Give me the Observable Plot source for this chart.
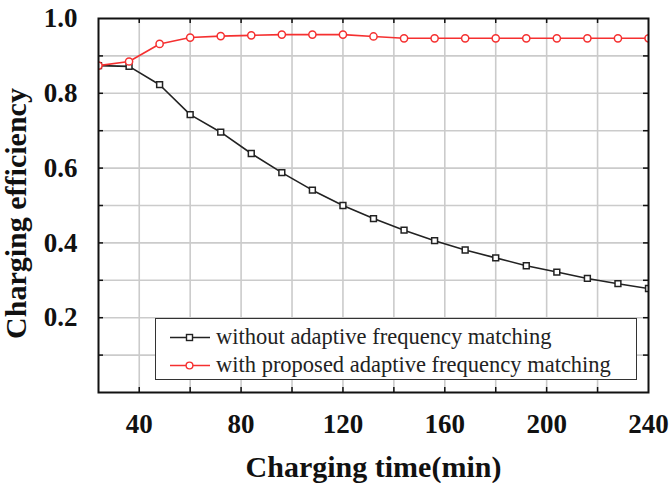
<!DOCTYPE html>
<html>
<head>
<meta charset="utf-8">
<script src="https://cdn.jsdelivr.net/npm/d3@7"></script>
<script src="https://cdn.jsdelivr.net/npm/@observablehq/plot@0.6"></script>
<style>
  html, body { margin: 0; padding: 0; background: #fff; }
  #wrap { position: relative; width: 671px; height: 483px; }
  #legend {
    position: absolute; left: 155px; top: 318px; width: 482px; height: 62px;
    border: 1.5px solid #333; background: #fff; box-sizing: border-box;
    font-family: "Liberation Serif", "Times New Roman", serif; font-size: 22.5px; color: #222;
  }
  .row { position: absolute; left: 14px; height: 26px; display: flex; align-items: center; }
  .row svg { margin-right: 6px; }
</style>
</head>
<body>
<div id="wrap"></div>
<script>
// ---- data ----
const times = [24, 36, 48, 60, 72, 84, 96, 108, 120, 132, 144, 156, 168, 180, 192, 204, 216, 228, 240];
const withoutMatching = [0.874, 0.872, 0.823, 0.743, 0.696, 0.639, 0.588, 0.541, 0.500, 0.465, 0.434, 0.406, 0.381, 0.360, 0.339, 0.322, 0.305, 0.291, 0.278];
const withMatching = [0.874, 0.885, 0.932, 0.949, 0.953, 0.955, 0.957, 0.957, 0.957, 0.952, 0.947, 0.947, 0.947, 0.947, 0.947, 0.947, 0.947, 0.947, 0.947];
const seriesNames = ["without adaptive frequency matching", "with proposed adaptive frequency matching"];
const xTickLabels = [40, 80, 120, 160, 200, 240];
const yTickLabels = [0.2, 0.4, 0.6, 0.8, 1.0];
const xGrid = [40, 60, 80, 100, 120, 140, 160, 180, 200, 220];
const yGrid = [0.1, 0.2, 0.3, 0.4, 0.5, 0.6, 0.7, 0.8, 0.9];
const xLabel = "Charging time(min)";
const yLabel = "Charging efficiency";

const blackData = times.map((t, i) => ({t, v: withoutMatching[i]}));
const redData = times.map((t, i) => ({t, v: withMatching[i]}));

const BLACK = "#222";
const RED = "#f53030";
const H = 483, mTop = 18, mBottom = 91;
const innerH = H - mTop - mBottom;
const innerW = 671 - 98 - 23;
const SERIF = "'Liberation Serif', 'Times New Roman', serif";

const chart = Plot.plot({
  width: 671,
  height: H,
  marginLeft: 98,
  marginRight: 23,
  marginTop: mTop,
  marginBottom: mBottom,
  x: {domain: [24, 240]},
  y: {domain: [0, 1]},
  style: {
    fontFamily: SERIF,
    fontWeight: "bold",
    fontSize: "27px",
    color: "#111",
    background: "#fff"
  },
  marks: [
    Plot.gridX(xGrid, {stroke: "#cbcbcb", strokeOpacity: 1, strokeWidth: 1.6}),
    Plot.gridY(yGrid, {stroke: "#cbcbcb", strokeOpacity: 1, strokeWidth: 1.6}),
    // inward ticks on all four sides
    Plot.tickX(xGrid, {x: d => d, insetTop: innerH - 5, stroke: "#111", strokeWidth: 1.5}),
    Plot.tickX(xGrid, {x: d => d, insetBottom: innerH - 5, stroke: "#111", strokeWidth: 1.5}),
    Plot.tickY(yGrid, {y: d => d, insetRight: innerW - 5, stroke: "#111", strokeWidth: 1.5}),
    Plot.tickY(yGrid, {y: d => d, insetLeft: innerW - 5, stroke: "#111", strokeWidth: 1.5}),
    Plot.axisX({ticks: xTickLabels, tickSize: 0, tickPadding: 21, label: null, fontSize: 27, fontFamily: SERIF, fontWeight: "bold"}),
    Plot.axisY({ticks: yTickLabels, tickSize: 0, tickPadding: 21, tickFormat: d3.format(".1f"), label: null, fontSize: 27, fontFamily: SERIF, fontWeight: "bold"}),
    Plot.line(blackData, {x: "t", y: "v", stroke: BLACK, strokeWidth: 1.6, clip: true}),
    Plot.dot(blackData, {x: "t", y: "v", symbol: "square", r: 3.3, fill: "#fff", stroke: BLACK, strokeWidth: 1.5, clip: true}),
    Plot.line(redData, {x: "t", y: "v", stroke: RED, strokeWidth: 1.6, clip: true}),
    Plot.dot(redData, {x: "t", y: "v", symbol: "circle", r: 3.6, fill: "#fff", stroke: RED, strokeWidth: 1.5, clip: true}),
    Plot.frame({stroke: "#111", strokeWidth: 2}),
    Plot.text([xLabel], {frameAnchor: "bottom", dy: 75, text: d => d, fontSize: 30, fontWeight: "bold", lineAnchor: "middle", fill: "#111"}),
    Plot.text([yLabel], {frameAnchor: "left", dx: -82, dy: 8, rotate: -90, text: d => d, fontSize: 30, fontWeight: "bold", lineAnchor: "middle", textAnchor: "middle", fill: "#111"})
  ]
});

const wrap = document.getElementById("wrap");
wrap.appendChild(chart);

// legend
const legend = document.createElement("div");
legend.id = "legend";
const items = [
  {name: seriesNames[0], color: BLACK, shape: "square"},
  {name: seriesNames[1], color: RED, shape: "circle"}
];
items.forEach((it, i) => {
  const row = document.createElement("div");
  row.className = "row";
  row.style.top = (5 + i * 28) + "px";
  const marker = it.shape === "square"
    ? `<rect x="16.5" y="9.5" width="6" height="6" fill="#fff" stroke="${it.color}" stroke-width="1.4"/>`
    : `<circle cx="19.5" cy="12.5" r="3.4" fill="#fff" stroke="${it.color}" stroke-width="1.4"/>`;
  row.innerHTML = `<svg width="40" height="25"><line x1="0" y1="12.5" x2="40" y2="12.5" stroke="${it.color}" stroke-width="1.6"/>${marker}</svg><span>${it.name}</span>`;
  legend.appendChild(row);
});
wrap.appendChild(legend);
</script>
</body>
</html>
